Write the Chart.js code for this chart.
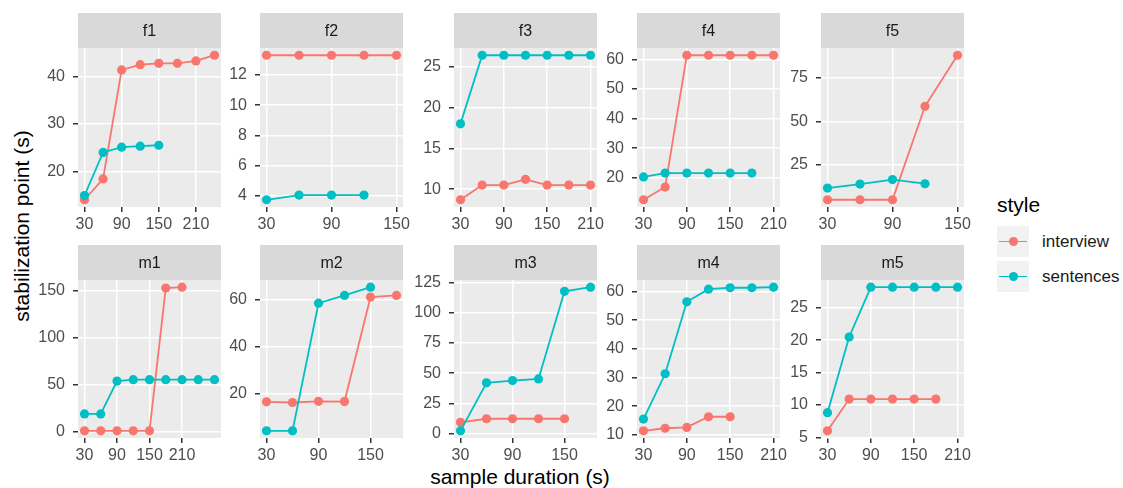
<!DOCTYPE html>
<html>
<head>
<meta charset="utf-8">
<script src="https://cdn.jsdelivr.net/npm/chart.js@4.4.1/dist/chart.umd.min.js"></script>
<style>
  body { margin: 0; width: 1123px; height: 488px; background: #fff; position: relative; overflow: hidden;
         font-family: "Liberation Sans", Arial, sans-serif; }
  canvas.panel { position: absolute; }
  .title { position: absolute; white-space: nowrap; font-size: 21px; color: #000; transform: translate(-50%, -50%); }
  #ytitle { transform: translate(-50%, -50%) rotate(-90deg); }
  .key { position: absolute; width: 32px; height: 31px; background: #F2F2F2; }
  .key .ln { position: absolute; left: 2px; right: 2px; top: 14.5px; height: 1.8px; }
  .key .pt { position: absolute; left: 11.5px; top: 11px; width: 9px; height: 9px; border-radius: 50%; }
  .lab { position: absolute; font-size: 17px; color: #1A1A1A; transform: translateY(-50%); white-space: nowrap; }
</style>
</head>
<body>
<div class="title" id="ytitle" style="left:22px;top:226px">stabilization point (s)</div>
<div class="title" id="xtitle" style="left:520px;top:477px">sample duration (s)</div>
<div class="title" style="left:997px;top:205px;transform:translateY(-50%)">style</div>
<div class="key" style="left:997px;top:226px"><div class="ln" style="background:#F8766D"></div><div class="pt" style="background:#F8766D"></div></div>
<div class="key" style="left:997px;top:261px"><div class="ln" style="background:#00BFC4"></div><div class="pt" style="background:#00BFC4"></div></div>
<div class="lab" style="left:1042px;top:242px">interview</div>
<div class="lab" style="left:1042px;top:277px">sentences</div>

<script>
// sample durations (s), shared x values
const durations = [30, 60, 90, 120, 150, 180, 210, 240, 270];
const panelNames = ['f1', 'f2', 'f3', 'f4', 'f5', 'm1', 'm2', 'm3', 'm4', 'm5'];

// stabilization point (s), one row per panel, starting at 30 s
const interviewValues = [
  [14.0, 18.4, 41.4, 42.5, 42.8, 42.8, 43.3, 44.5],
  [13.3, 13.3, 13.3, 13.3, 13.3],
  [8.7, 10.5, 10.5, 11.2, 10.5, 10.5, 10.5],
  [12.6, 16.9, 61.4, 61.4, 61.4, 61.4, 61.4],
  [5.0, 5.0, 5.0, 58.6, 87.9],
  [1, 1, 1, 1, 1, 153, 154],
  [16.7, 16.4, 16.9, 16.8, 61.1, 61.8],
  [9.2, 12.2, 12.2, 12.2, 12.2],
  [11.4, 12.3, 12.6, 16.3, 16.3],
  [6.0, 10.9, 10.9, 10.9, 10.9, 10.9]
];
const sentencesValues = [
  [14.9, 24.0, 25.1, 25.3, 25.5],
  [3.74, 4.05, 4.05, 4.05],
  [18.0, 26.4, 26.4, 26.4, 26.4, 26.4, 26.4],
  [20.3, 21.6, 21.6, 21.6, 21.6, 21.6],
  [11.7, 14.0, 16.6, 14.2],
  [19, 19, 54, 55.5, 55.5, 55.5, 55.5, 55.5, 55.5],
  [4.4, 4.4, 58.5, 61.8, 65.3],
  [2.2, 42.0, 43.8, 45.2, 117.8, 121.2],
  [15.5, 31.3, 56.4, 60.8, 61.3, 61.3, 61.5],
  [8.8, 20.5, 28.2, 28.2, 28.2, 28.2, 28.2]
];

// axis breaks
const xTicks = [30, 90, 150, 210];
const yTickSteps = [10, 2, 5, 10, 25, 50, 20, 25, 10, 5];

const colLefts = [78, 260, 454, 637, 821];
const rowTops = [13, 245];
const panelW = 143, panelHs = [159, 158];
const STRIP_H = 35, AXIS_W = 50, AXIS_H = 30, PAD_R = 20;
const FONT = '"Liberation Sans", Arial, sans-serif';

const facetPlugin = {
  id: 'facet',
  beforeDraw(chart, args, opts) {
    const { ctx, chartArea: a } = chart;
    ctx.save();
    ctx.fillStyle = '#EBEBEB';
    ctx.fillRect(a.left, a.top, a.right - a.left, a.bottom - a.top);
    ctx.fillStyle = '#D9D9D9';
    ctx.fillRect(a.left, a.top - STRIP_H, a.right - a.left, STRIP_H);
    ctx.fillStyle = '#1A1A1A';
    ctx.font = '16px ' + FONT;
    ctx.textAlign = 'center';
    ctx.textBaseline = 'middle';
    ctx.fillText(opts.label, (a.left + a.right) / 2, a.top - STRIP_H / 2 + 1);
    ctx.restore();
  }
};

function toPoints(vals) {
  return vals.map((v, i) => ({ x: durations[i], y: v }));
}

const tickFont = { family: FONT, size: 16 };
const gridOpts = { color: '#FFFFFF', lineWidth: 1.5, tickColor: '#333333', tickLength: 5 };

panelNames.forEach((name, p) => {
  const row = Math.floor(p / 5), col = p % 5;
  const iv = interviewValues[p], sv = sentencesValues[p];
  const xMax = durations[Math.max(iv.length, sv.length) - 1];
  const xPad = (xMax - 30) * 0.05;
  const all = iv.concat(sv);
  const yLo = Math.min(...all), yHi = Math.max(...all);
  const yPad = (yHi - yLo) * 0.05;
  const step = yTickSteps[p];

  const canvas = document.createElement('canvas');
  canvas.className = 'panel';
  const w = AXIS_W + panelW + PAD_R, h = STRIP_H + panelHs[row] + AXIS_H;
  canvas.style.left = (colLefts[col] - AXIS_W) + 'px';
  canvas.style.top = rowTops[row] + 'px';
  canvas.style.width = w + 'px';
  canvas.style.height = h + 'px';
  canvas.width = w; canvas.height = h;
  document.body.appendChild(canvas);

  new Chart(canvas, {
    type: 'line',
    data: {
      datasets: [
        {
          label: 'interview',
          data: toPoints(iv),
          borderColor: '#F8766D',
          backgroundColor: '#F8766D',
          order: 1,
        },
        {
          label: 'sentences',
          data: toPoints(sv),
          borderColor: '#00BFC4',
          backgroundColor: '#00BFC4',
          order: 0,
        }
      ]
    },
    options: {
      responsive: false,
      animation: false,
      devicePixelRatio: 1,
      layout: { padding: { top: STRIP_H, right: PAD_R, left: 0, bottom: 0 } },
      elements: {
        line: { borderWidth: 1.8, tension: 0 },
        point: { radius: 4.6, borderWidth: 0, hoverRadius: 4.6 },
      },
      plugins: {
        legend: { display: false },
        tooltip: { enabled: false },
        facet: { label: name },
      },
      scales: {
        x: {
          type: 'linear',
          min: 30 - xPad,
          max: xMax + xPad,
          afterBuildTicks: s => { s.ticks = xTicks.filter(v => v >= s.min && v <= s.max).map(v => ({ value: v })); },
          afterFit: s => { s.height = AXIS_H; },
          ticks: { autoSkip: false, maxRotation: 0, padding: 3, color: '#4D4D4D', font: tickFont },
          grid: gridOpts,
          border: { display: false },
        },
        y: {
          min: yLo - yPad,
          max: yHi + yPad,
          afterBuildTicks: s => {
            const t = [];
            for (let v = Math.ceil(s.min / step) * step; v <= s.max; v += step) t.push({ value: v });
            s.ticks = t;
          },
          afterFit: s => { s.width = AXIS_W; },
          ticks: { autoSkip: false, padding: 8, color: '#4D4D4D', font: tickFont },
          grid: gridOpts,
          border: { display: false },
        }
      }
    },
    plugins: [facetPlugin]
  });
});
</script>
</body>
</html>
